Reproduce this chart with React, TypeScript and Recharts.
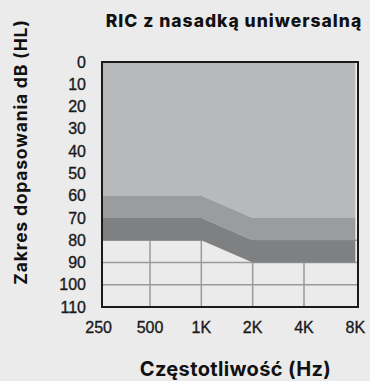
import React from 'react';
import { ComposedChart, Area, XAxis, YAxis, CartesianGrid, ReferenceArea } from 'recharts';

// Audiometric frequencies (index positions on the x axis)
const frequencies = ['250', '500', '1K', '2K', '4K', '8K'];
// Upper edge of the fitting range (dB HL) per frequency
const rangeTop = [60, 60, 60, 70, 70, 70];
// Thickness of the two darker bands below it (dB)
const bandMid = [10, 10, 10, 10, 10, 10];
const bandLow = [10, 10, 10, 10, 10, 10];
const dbTicks = [0, 10, 20, 30, 40, 50, 60, 70, 80, 90, 100, 110];

const data = frequencies.map((f, i) => ({
  x: i,
  label: f,
  top: rangeTop[i],
  mid: bandMid[i],
  low: bandLow[i],
}));

const BG = '#ebebeb';
const X_DOMAIN: [number, number] = [0.065, 5.052];

const tickStyle = {
  fontFamily: '"Liberation Sans", Arial, sans-serif',
  fontSize: 16,
  fill: '#1a1a1a',
  stroke: '#1a1a1a',
  strokeWidth: 0.35,
};

const heading = {
  position: 'absolute' as const,
  fontFamily: 'Inter, sans-serif',
  fontWeight: 800,
  color: '#111',
  whiteSpace: 'nowrap' as const,
  lineHeight: 1.2,
};

export default function App() {
  return (
    <div style={{ position: 'absolute', left: 0, top: 0, width: 370, height: 381, background: BG, overflow: 'hidden' }}>
      <div style={{ ...heading, left: 234, top: 20, fontSize: 17.5, letterSpacing: 1, transform: 'translate(-50%, -50%)' }}>
        RIC z nasadką uniwersalną
      </div>
      <div
        style={{
          ...heading,
          left: 20,
          top: 152,
          fontSize: 17.5,
          fontWeight: 750,
          letterSpacing: 0.8,
          transform: 'translate(-50%, -50%) rotate(-90deg)',
        }}
      >
        Zakres dopasowania dB (HL)
      </div>
      <div
        style={{
          ...heading,
          left: 235.5,
          top: 369,
          fontSize: 20,
          fontWeight: 700,
          letterSpacing: 0.35,
          transform: 'translate(-50%, -50%)',
        }}
      >
        Częstotliwość (Hz)
      </div>
      <ComposedChart
        width={370}
        height={381}
        data={data}
        margin={{ top: 62, right: 12, bottom: 44, left: 42 }}
        style={{ position: 'absolute', left: 0, top: 0 }}
      >
        <CartesianGrid
          stroke="#9a9a9a"
          strokeWidth={1.5}
          verticalValues={[1, 2, 3, 4]}
          horizontalValues={[80, 90, 100]}
        />
        <XAxis
          dataKey="x"
          type="number"
          domain={X_DOMAIN}
          allowDataOverflow
          ticks={[0, 1, 2, 3, 4, 5]}
          interval={0}
          tickFormatter={(v: number) => frequencies[v]}
          axisLine={false}
          tickLine={false}
          tickSize={0}
          tickMargin={15}
          height={30}
          tick={tickStyle}
        />
        <YAxis
          type="number"
          domain={[0, 110]}
          reversed
          ticks={dbTicks}
          interval={0}
          axisLine={false}
          tickLine={false}
          tickSize={0}
          tickMargin={16}
          width={60}
          tick={tickStyle}
        />
        <Area type="linear" dataKey="top" stackId="r" fill="#b8b9bb" fillOpacity={1} stroke="none" isAnimationActive={false} />
        <Area type="linear" dataKey="mid" stackId="r" fill="#9b9c9e" fillOpacity={1} stroke="none" isAnimationActive={false} />
        <Area type="linear" dataKey="low" stackId="r" fill="#7f8082" fillOpacity={1} stroke="none" isAnimationActive={false} />
        <ReferenceArea
          x1={X_DOMAIN[0]}
          x2={X_DOMAIN[1]}
          y1={0}
          y2={110}
          fill="none"
          stroke="#1a1a1a"
          strokeWidth={2}
          ifOverflow="visible"
        />
      </ComposedChart>
    </div>
  );
}
